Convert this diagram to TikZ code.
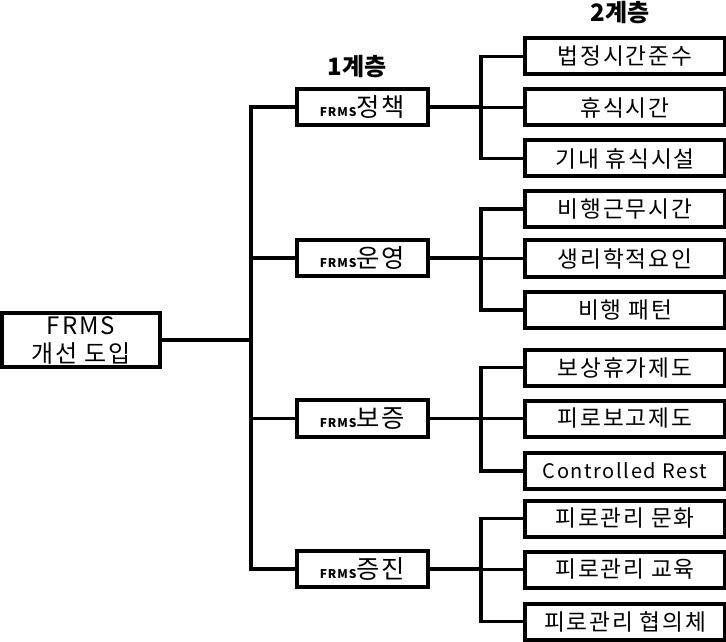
\documentclass[tikz,border=0pt]{standalone}
\usepackage{fontspec}
\setmainfont{Noto Sans CJK KR}[LetterSpace=8]
\usepackage{tikz}
\usetikzlibrary{positioning, calc}
\newcommand{\frmstag}{{\fontsize{9}{10}\selectfont\bfseries FRMS}}

\begin{document}
\begin{tikzpicture}[x=0.75pt, y=-0.75pt,
    topbox/.style={draw, line width=3pt, minimum width=118pt, minimum height=41pt, inner sep=1pt, align=center, font=\fontsize{18}{21}\selectfont},
    lvlbox/.style={draw, line width=3pt, minimum width=98pt, minimum height=27.5pt, inner sep=1pt, font=\fontsize{19}{20}\selectfont},
    subbox/.style={draw, line width=3pt, minimum width=150pt, minimum height=27pt, inner sep=1pt, font=\fontsize{17}{18}\selectfont},
    head/.style={font=\fontsize{18}{19}\selectfont\bfseries\addfontfeature{LetterSpace=0}},
    link/.style={line width=2.4pt}]
  \useasboundingbox (0,0) rectangle (726,642);

  % headings
  \node[head] (h1) at (357,67) {1계층};
  \node[head] (h2) at (620,13) {2계층};

  % root
  \node[topbox] (root) at (81,340) {FRMS\\개선 도입};

  % level 1
  \node[lvlbox] (pol) at (362.5,107) {\frmstag 정책};
  \node[lvlbox] (ops) at (362.5,258) {\frmstag 운영};
  \node[lvlbox] (asr) at (362.5,418.5) {\frmstag 보증};
  \node[lvlbox] (prm) at (362.5,569) {\frmstag 증진};

  % level 2
  \node[subbox] (pol1) at (625,56.5) {법정시간준수};
  \node[subbox] (pol2) at (625,107.5) {휴식시간};
  \node[subbox] (pol3) at (625,158.5) {기내 휴식시설};
  \node[subbox] (ops1) at (625,209) {비행근무시간};
  \node[subbox] (ops2) at (625,258.5) {생리학적요인};
  \node[subbox] (ops3) at (625,310) {비행 패턴};
  \node[subbox] (asr1) at (625,367.5) {보상휴가제도};
  \node[subbox] (asr2) at (625,418.5) {피로보고제도};
  \node[subbox, font=\fontsize{15}{16}\selectfont] (asr3) at (625,471) {Controlled Rest};
  \node[subbox] (prm1) at (625,518.5) {피로관리 문화};
  \node[subbox] (prm2) at (625,569.5) {피로관리 교육};
  \node[subbox] (prm3) at (625,621.5) {피로관리 협의체};

  % connectors
  \coordinate (trunk) at (251,340);
  \draw[link] (root.east) -- (trunk);
  \foreach \n in {pol,ops,asr,prm}
    \draw[link] (\n.west) -| (trunk);
  \foreach \n in {pol,ops,asr,prm}
    \foreach \k in {1,2,3}
      \draw[link] (\n\k.west) -- ++(-42,0) |- (\n.east);
\end{tikzpicture}
\end{document}
